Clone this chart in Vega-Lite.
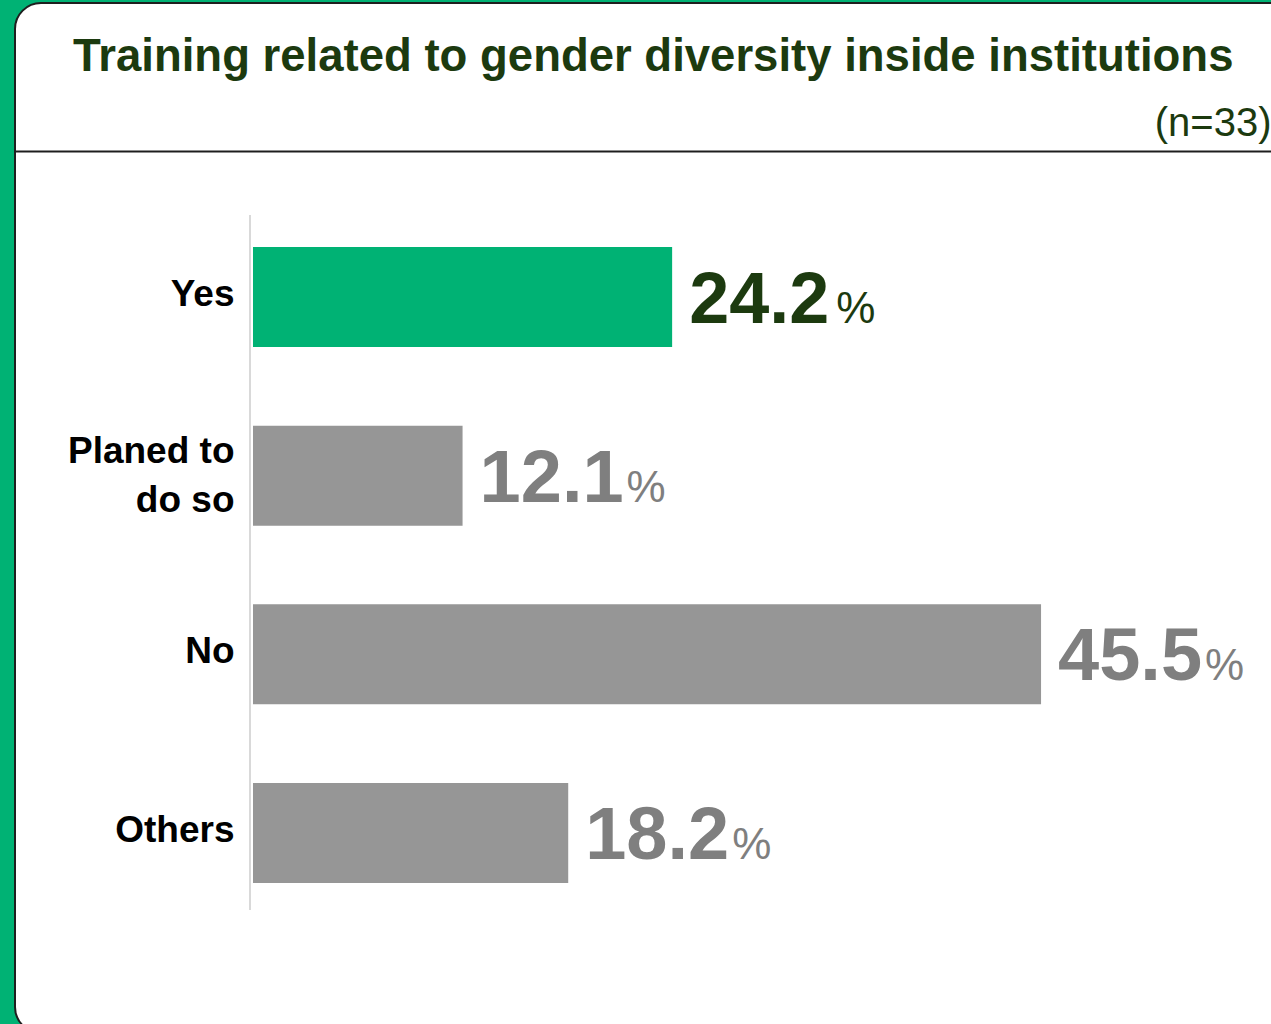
{
  "$schema": "https://vega.github.io/schema/vega-lite/v6.json",
  "width": 1300,
  "height": 1030,
  "autosize": {"type": "none"},
  "padding": {"left": 15, "top": 3, "right": 0, "bottom": 0},
  "background": "#00B274",
  "config": {
    "font": "Liberation Sans",
    "view": {"fill": "#ffffff", "stroke": "#1e1e1e", "strokeWidth": 2, "cornerRadius": 26}
  },
  "title": {
    "text": "Training related to gender diversity inside institutions",
    "font": "Liberation Sans",
    "fontSize": 45.5,
    "fontWeight": "bold",
    "color": "#1C3A0F",
    "anchor": "start",
    "frame": "group",
    "dx": 58,
    "offset": -77
  },
  "data": {
    "values": [
      {"category": "Yes", "value": 24.2},
      {"category": "Planed to do so", "value": 12.1},
      {"category": "No", "value": 45.5},
      {"category": "Others", "value": 18.2}
    ]
  },
  "layer": [
    {
      "mark": {"type": "bar"},
      "encoding": {
        "y": {
          "field": "category",
          "type": "nominal",
          "sort": null,
          "scale": {"range": [244, 880], "paddingInner": 0.4403, "paddingOuter": 0, "round": false},
          "axis": {
            "orient": "left",
            "offset": -235,
            "title": null,
            "domain": false,
            "ticks": false,
            "labelPadding": 16,
            "labelFont": "Liberation Sans",
            "labelFontSize": 37,
            "labelFontWeight": "bold",
            "labelColor": "#000000",
            "labelLineHeight": 49,
            "labelBaseline": "middle",
            "labelLimit": 0,
            "labelOffset": {"condition": {"test": "datum.value == 'Planed to do so'", "value": -24}, "value": -2},
            "labelExpr": "datum.label == 'Planed to do so' ? ['Planed to', 'do so'] : datum.label"
          }
        },
        "x": {
          "field": "value",
          "type": "quantitative",
          "scale": {"domain": [-13.741, 61.317], "nice": false, "zero": false},
          "axis": {
            "orient": "top",
            "offset": -148,
            "domain": true,
            "domainColor": "#1e1e1e",
            "domainWidth": 2,
            "labels": false,
            "ticks": false,
            "grid": false,
            "title": "(n=33)",
            "titleFont": "Liberation Sans",
            "titleFontSize": 40,
            "titleFontWeight": "normal",
            "titleColor": "#1C3A0F",
            "titleAnchor": "end",
            "titleAlign": "right",
            "titleBaseline": "alphabetic",
            "titleX": 1256,
            "titlePadding": 16
          }
        },
        "x2": {"datum": 0},
        "color": {
          "condition": {"test": "datum.category === 'Yes'", "value": "#00B274"},
          "value": "#969696"
        }
      }
    },
    {
      "mark": {"type": "text", "align": "left", "baseline": "alphabetic", "dx": 17, "dy": 26, "fontWeight": "bold", "font": "Liberation Sans"},
      "encoding": {
        "y": {"field": "category", "type": "nominal", "sort": null},
        "x": {"field": "value", "type": "quantitative"},
        "text": {"field": "value", "type": "quantitative", "format": ".1f"},
        "size": {
          "condition": {"test": "datum.category === 'Yes'", "value": 72},
          "value": 74
        },
        "color": {
          "condition": {"test": "datum.category === 'Yes'", "value": "#1C3A0F"},
          "value": "#7F7F7F"
        }
      }
    },
    {
      "mark": {"type": "text", "align": "left", "baseline": "alphabetic", "dx": 164, "dy": 26, "fontSize": 44, "fontWeight": "normal", "font": "Liberation Sans", "text": "%"},
      "encoding": {
        "y": {"field": "category", "type": "nominal", "sort": null},
        "x": {"field": "value", "type": "quantitative"},
        "color": {
          "condition": {"test": "datum.category === 'Yes'", "value": "#1C3A0F"},
          "value": "#7F7F7F"
        }
      }
    },
    {
      "data": {"values": [{}]},
      "mark": {"type": "rule", "color": "#D9D9D9", "strokeWidth": 2, "xOffset": -3, "yOffset": -82, "y2Offset": 77},
      "encoding": {
        "x": {"datum": 0, "type": "quantitative"},
        "y": {"datum": "Yes", "type": "nominal"},
        "y2": {"datum": "Others"}
      }
    }
  ]
}
